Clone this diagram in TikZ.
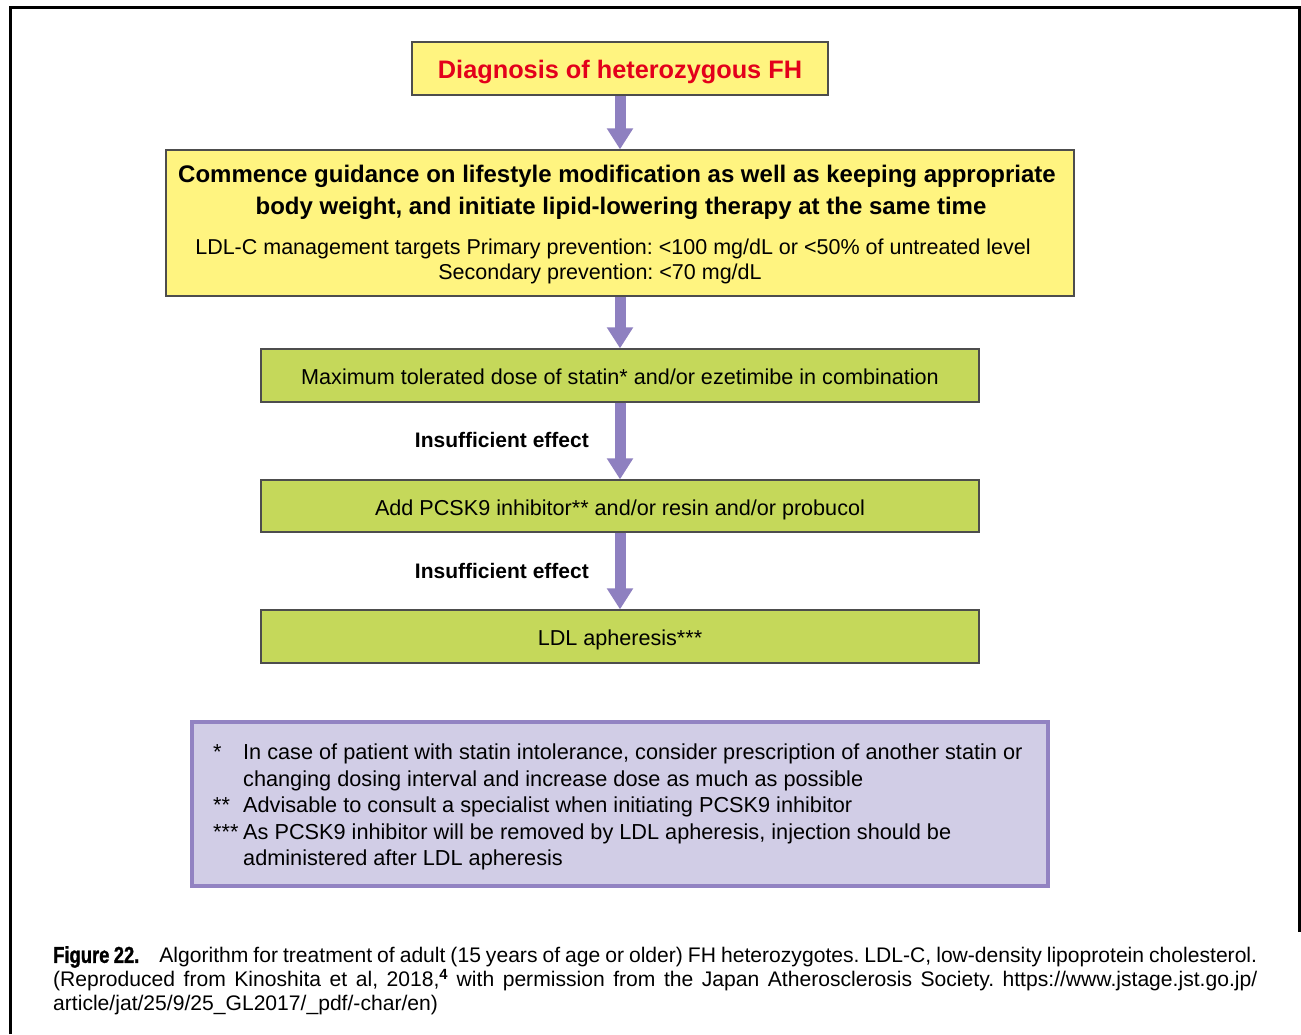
\documentclass[tikz,border=0pt]{standalone}
\usepackage{fontspec}
\setmainfont{Liberation Sans}
\newfontfamily\figlabelfont[FakeStretch=0.8,FakeBold=1.2]{Liberation Sans}
\usetikzlibrary{arrows.meta}
\frenchspacing
\definecolor{boxyellow}{HTML}{FFF480}
\definecolor{boxgreen}{HTML}{C5D85A}
\definecolor{arrowpurple}{HTML}{8E80C0}
\definecolor{notefill}{HTML}{D1CDE6}
\definecolor{notedge}{HTML}{9283C2}
\definecolor{diagred}{HTML}{E3001B}
\definecolor{edgegray}{HTML}{4D4D4D}
\begin{document}
\begin{tikzpicture}[x=1pt,y=-1pt,
  yellowbox/.style={draw=edgegray, line width=1.3pt, fill=boxyellow, inner sep=0pt},
  greenbox/.style={draw=edgegray, line width=1.3pt, fill=boxgreen, inner sep=0pt,
    minimum width=718pt, minimum height=53pt, text height=18pt, text depth=0pt,
    font=\fontsize{21.6}{25}\selectfont},
  flowarrow/.style={line width=11pt, draw=arrowpurple, -{Triangle[width=25pt,length=21pt]}},
  boldline/.style={inner sep=0pt, font=\fontsize{24}{28}\selectfont\bfseries},
  plainline/.style={inner sep=0pt, font=\fontsize{21.5}{25}\selectfont},
  effectlabel/.style={inner sep=0pt, anchor=east, font=\fontsize{21}{24}\selectfont\bfseries},
]
\useasboundingbox (0,0) rectangle (1301,1034);
\fill[white] (0,0) rectangle (1301,1034);
% outer frame (open at the bottom)
\draw[line width=3pt, black] (10,1034) -- (10,7) -- (1299,7) -- (1299,932);

% boxes
\node[yellowbox, minimum width=416pt, minimum height=53pt, text height=20pt, text depth=0pt,
  font=\fontsize{25.3}{30}\selectfont\bfseries, text=diagred] (diag) at (620,68.5)
  {Diagnosis of heterozygous FH};
\node[yellowbox, minimum width=908pt, minimum height=146pt] (guide) at (620,223) {};
\node[boldline] (g1) at (617,176) {Commence guidance on lifestyle modification as well as keeping appropriate};
\node[boldline] (g2) at (621,208) {body weight, and initiate lipid-lowering therapy at the same time};
\node[plainline] (g3) at (613,248.5) {LDL-C management targets Primary prevention: <100 mg/dL or <50\% of untreated level};
\node[plainline] (g4) at (600,273.5) {Secondary prevention: <70 mg/dL};

\node[greenbox] (statin) at (620,375.5) {Maximum tolerated dose of statin* and/or ezetimibe in combination};
\node[greenbox, minimum height=52pt] (pcsk) at (620,506) {Add PCSK9 inhibitor** and/or resin and/or probucol};
\node[greenbox] (apher) at (620,636.5) {LDL apheresis***};

% arrows
\draw[flowarrow] (diag.south) -- (guide.north);
\draw[flowarrow] (guide.south) -- (statin.north);
\draw[flowarrow] (statin.south) -- (pcsk.north);
\draw[flowarrow] (pcsk.south) -- (apher.north);
\node[effectlabel] (eff1) at (589,440) {Insufficient effect};
\node[effectlabel] (eff2) at (589,571) {Insufficient effect};

% notes
\node[draw=notedge, line width=4pt, fill=notefill, minimum width=856pt, minimum height=164pt] (notes) at (620,804) {};
\node[inner sep=0pt, anchor=west, align=left, font=\fontsize{21.7}{26.6}\selectfont] (notetext) at (213,807)
  {\makebox[30pt][l]{*}In case of patient with statin intolerance, consider prescription of another statin or\\
   \makebox[30pt][l]{}changing dosing interval and increase dose as much as possible\\
   \makebox[30pt][l]{**}Advisable to consult a specialist when initiating PCSK9 inhibitor\\
   \makebox[30pt][l]{***}As PCSK9 inhibitor will be removed by LDL apheresis, injection should be\\
   \makebox[30pt][l]{}administered after LDL apheresis};

% caption
\node[inner sep=0pt, anchor=north west, text width=1204pt, align=justify,
  font=\fontsize{21.1}{24}\selectfont] (caption) at (53,946)
  {\noindent{\figlabelfont\fontsize{23}{24}\selectfont\bfseries Figure 22.}\hspace{20pt}Algorithm for treatment of adult (15 years of age or older) FH heterozygotes. LDL-C, low-density lipoprotein cholesterol.\linebreak
   (Reproduced from Kinoshita et al, 2018,\textsuperscript{\textbf{4}} with permission from the Japan Atherosclerosis Society. https://www.jstage.jst.go.jp/\linebreak
   article/jat/25/9/25\_GL2017/\_pdf/-char/en)};
\end{tikzpicture}
\end{document}
